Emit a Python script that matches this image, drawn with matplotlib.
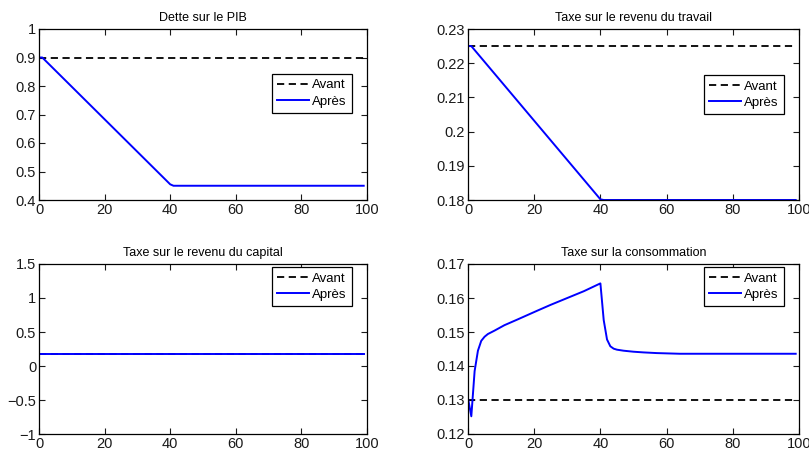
import matplotlib
matplotlib.use("Agg")
import matplotlib.pyplot as plt
import numpy as np

plt.rcParams['font.family'] = ['Liberation Sans', 'DejaVu Sans']

# Horizon (periods)
t_end = 99

# Debt-to-GDP path: vertices of the piecewise path
debt_t = [0, 1, 40, 41, 99]
debt_after = [0.9, 0.9, 0.455, 0.45, 0.45]
debt_before = 0.9

# Labour income tax
labour_t = [0, 1, 40, 41, 99]
labour_after = [0.225, 0.225, 0.1802, 0.18, 0.18]
labour_before = 0.225

# Capital income tax (unchanged)
capital_t = [0, 99]
capital_after = [0.18, 0.18]
capital_before = 0.18

# Consumption tax
cons_t = [0, 1, 2, 3, 4, 5, 6, 8, 11, 15, 21, 25, 30, 35, 40,
          41, 42, 43, 44, 45, 47, 50, 53, 57, 64, 70, 80, 99]
cons_after = [0.1305, 0.1252, 0.1385, 0.1445, 0.1474, 0.1486, 0.1494,
              0.1504, 0.1520, 0.1537, 0.1563, 0.1580, 0.1600, 0.1620, 0.1643,
              0.1535, 0.1478, 0.1458, 0.1451, 0.1448, 0.1445, 0.1442,
              0.1440, 0.1438, 0.1436, 0.1436, 0.1436, 0.1436]
cons_before = 0.13

titles = ["Dette sur le PIB", "Taxe sur le revenu du travail",
          "Taxe sur le revenu du capital", "Taxe sur la consommation"]

yticks = [
    [0.4, 0.5, 0.6, 0.7, 0.8, 0.9, 1.0],
    [0.18, 0.19, 0.20, 0.21, 0.22, 0.23],
    [-1.0, -0.5, 0.0, 0.5, 1.0, 1.5],
    [0.12, 0.13, 0.14, 0.15, 0.16, 0.17],
]
yticklabels = [
    ["0.4", "0.5", "0.6", "0.7", "0.8", "0.9", "1"],
    ["0.18", "0.19", "0.2", "0.21", "0.22", "0.23"],
    ["\u22121", "\u22120.5", "0", "0.5", "1", "1.5"],
    ["0.12", "0.13", "0.14", "0.15", "0.16", "0.17"],
]
xticks = [0, 20, 40, 60, 80, 100]
xticklabels = ["0", "20", "40", "60", "80", "100"]

series = [
    (debt_t, debt_after, debt_before),
    (labour_t, labour_after, labour_before),
    (capital_t, capital_after, capital_before),
    (cons_t, cons_after, cons_before),
]

W, H = 809, 451
fig = plt.figure(figsize=(W / 100, H / 100), dpi=100)

# axes boxes in pixels: left, top, right, bottom
boxes = [
    (39, 29, 367, 200),
    (468, 29, 799, 200),
    (39, 264, 367, 434),
    (468, 264, 799, 434),
]
legend_anchor = [(0.954, 0.737), (0.955, 0.731), (0.954, 0.98), (0.955, 0.98)]

for i, (ax_box, (tt, after, before)) in enumerate(zip(boxes, series)):
    l, t, r, b = ax_box
    ax = fig.add_axes([l / W, 1 - b / H, (r - l) / W, (b - t) / H])
    ax.plot([0, t_end], [before, before], color='black', linestyle=(0, (4, 2.5)),
            linewidth=1.3, label='Avant')
    ax.plot(tt, after, color='#0000ff', linewidth=1.4, label='Apr\u00e8s')
    ax.set_xlim(0, 100)
    ax.set_ylim(yticks[i][0], yticks[i][-1])
    ax.set_xticks(xticks)
    ax.set_xticklabels(xticklabels)
    ax.set_yticks(yticks[i])
    ax.set_yticklabels(yticklabels[i])
    ax.tick_params(direction='in', length=4, width=0.8, top=True, right=True,
                   labelsize=10.5, pad=2, colors='#1a1a1a')
    for s in ax.spines.values():
        s.set_linewidth(0.9)
    ax.set_title(titles[i], fontsize=9, pad=6)
    leg = ax.legend(loc='upper right', bbox_to_anchor=legend_anchor[i],
                    fontsize=9.5, frameon=True, fancybox=False, framealpha=1,
                    edgecolor='black', handlelength=2.4, handletextpad=0.25,
                    borderpad=0.4, labelspacing=0.3, borderaxespad=0)
    leg.get_frame().set_linewidth(0.9)

fig.savefig("out.png", dpi=100)
